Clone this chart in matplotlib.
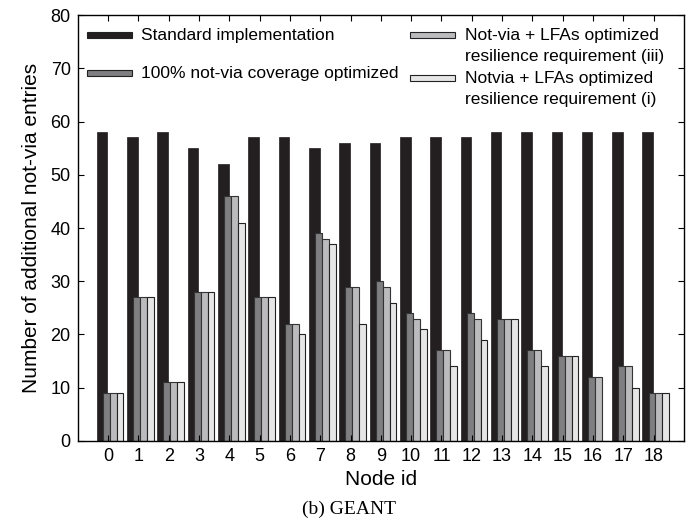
import numpy as np
import matplotlib.pyplot as plt
from matplotlib.patches import Rectangle

nodes = list(range(19))
standard = [58, 57, 58, 55, 52, 57, 57, 55, 56, 56, 57, 57, 57, 58, 58, 58, 58, 58, 58]
full_cov = [9, 27, 11, 28, 46, 27, 22, 39, 29, 30, 24, 17, 24, 23, 17, 16, 12, 14, 9]
lfa_iii = [9, 27, 11, 28, 46, 27, 22, 38, 29, 29, 23, 17, 23, 23, 17, 16, 12, 14, 9]
lfa_i = [9, 27, 11, 28, 41, 27, 20, 37, 22, 26, 21, 14, 19, 23, 14, 16, 0, 10, 9]

labels = ["Standard implementation",
          "100% not-via coverage optimized",
          "Not-via + LFAs optimized\nresilience requirement (iii)",
          "Notvia + LFAs optimized\nresilience requirement (i)"]
colors = ["#231f20", "#7f7f82", "#bbbbbe", "#e6e6e7"]

plt.rcParams['font.family'] = ['Liberation Sans', 'DejaVu Sans']

fig = plt.figure(figsize=(6.93, 5.23), dpi=100)
ax = fig.add_axes([0.1121, 0.1568, 0.8749, 0.8145])

x = np.array(nodes, dtype=float)
ax.bar(x - 0.37, standard, width=0.35, align='edge', color=colors[0], edgecolor=colors[0], linewidth=0.5)
ax.bar(x - 0.17, full_cov, width=0.23, align='edge', color=colors[1], edgecolor="#333333", linewidth=0.8)
ax.bar(x + 0.06, lfa_iii, width=0.23, align='edge', color=colors[2], edgecolor="#333333", linewidth=0.8)
ax.bar(x + 0.29, lfa_i, width=0.22, align='edge', color=colors[3], edgecolor="#222222", linewidth=0.8)

ax.set_xlim(-1, 19)
ax.set_ylim(0, 80)
ax.set_xticks(nodes)
ax.set_yticks(range(0, 81, 10))
ax.tick_params(direction='in', top=True, right=True, length=4, width=0.8, labelsize=13, pad=5)
for s in ax.spines.values():
    s.set_linewidth(1.0)
ax.set_xlabel("Node id", fontsize=15, labelpad=4)
ax.set_ylabel("Number of additional not-via entries", fontsize=15, labelpad=7)

# legend drawn by hand so the boxes line up with the first text line
def to_ax(px, py):
    return (px - 77.7) / 606.3, (441 - py) / 426

hw, hh = 45 / 606.3, 6.5 / 426
entries = [(86.7, 35, 140.7, [35]), (86.7, 73, 140.7, [73]),
           (410, 35, 465, [35, 56]), (410, 78, 465, [78, 99])]
for (hx, hy, tx, lines), lab, c in zip(entries, labels, colors):
    ax0, ay0 = to_ax(hx, hy)
    ax.add_patch(Rectangle((ax0, ay0 - hh / 2), hw, hh, transform=ax.transAxes,
                           facecolor=c, edgecolor="#222222", linewidth=0.8, zorder=5))
    for ly, txt in zip(lines, lab.split("\n")):
        tx0, ty0 = to_ax(tx, ly)
        ax.text(tx0, ty0, txt, transform=ax.transAxes, fontsize=12.5, va='center', ha='left')

fig.text(0.503, 0.027, "(b) GEANT", fontsize=14, ha='center', va='center', family='Liberation Serif')

fig.savefig("out.png", dpi=100)
